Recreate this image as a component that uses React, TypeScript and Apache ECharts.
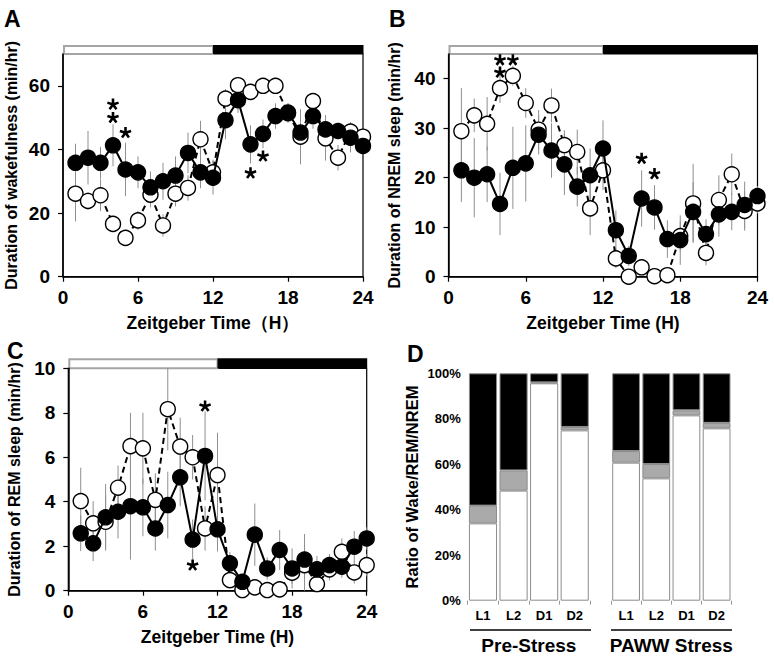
import React, { useEffect, useRef } from "react";
import * as echarts from "echarts";

const FONT = "Liberation Sans, Arial, Helvetica, sans-serif";

const HOURS = [1, 2, 3, 4, 5, 6, 7, 8, 9, 10, 11, 12, 13, 14, 15, 16, 17, 18, 19, 20, 21, 22, 23, 24];

// Panel A: wakefulness (min/hr)
const wakeFilled = [35.8, 37.4, 35.8, 41.3, 33.7, 32.8, 28.1, 30.0, 31.8, 38.9, 32.8, 31.1, 49.2, 55.5, 41.6, 44.9, 50.5, 51.6, 45.3, 50.5, 46.3, 45.8, 43.7, 41.1];
const wakeFilledErr = [6, 8.4, 5, 6.6, 8.4, 5, 5, 5.8, 6, 6.4, 5, 5.3, 6, 4, 6, 4.5, 4, 3, 6, 4, 4.5, 2.6, 4.6, 2];
const wakeOpen = [26.1, 23.8, 25.6, 16.6, 12.2, 17.7, 25.8, 16.1, 26.1, 27.9, 43.2, 32.8, 56.0, 60.2, 58.1, 60.0, 60.0, 51.4, 44.0, 55.2, 43.5, 37.4, 45.6, 44.0];
const wakeOpenErr = [8.7, 2.8, 5, 2, 2, 3, 4, 3.5, 4, 4, 5.8, 4, 3, 2, 2, 2, 2, 3, 8.7, 2.2, 7, 4, 3, 2];
const wakeStars = [[4, 54.2], [4, 50.0], [5, 45.3], [15, 32.6], [16, 37.9]];

// Panel B: NREM sleep (min/hr)
const nremFilled = [21.5, 20.0, 20.7, 14.7, 22.0, 22.9, 28.7, 25.5, 22.7, 18.2, 20.5, 25.9, 9.4, 4.2, 15.8, 14.0, 7.6, 7.4, 13.1, 8.6, 12.6, 13.1, 14.5, 16.3];
const nremFilledErr = [6.4, 8, 5.6, 6.3, 8.3, 7.7, 4, 5.5, 6.2, 4, 5.4, 5.7, 4, 2, 5.7, 4.5, 3.8, 5, 6, 3, 4.5, 3.7, 4.7, 2];
const nremOpen = [29.4, 32.6, 30.9, 38.1, 40.6, 35.1, 29.7, 34.6, 26.6, 25.2, 13.8, 21.5, 3.7, 0, 1.9, 0.1, 0.3, 8.2, 14.8, 4.8, 15.5, 20.7, 13.3, 14.8];
const nremOpenErr = [8.7, 3.4, 5.4, 3, 2, 3, 4, 3.4, 3, 4.5, 5.4, 4, 2, 0.5, 1.5, 0.5, 0.5, 3, 8, 2.5, 5, 4.2, 4, 2];
const nremStars = [[4, 43.8], [5, 43.8], [4, 41.3], [15, 23.9], [16, 20.8]];

// Panel C: REM sleep (min/hr)
const remFilled = [2.58, 2.13, 3.3, 3.55, 3.8, 3.75, 2.8, 3.85, 5.1, 2.3, 6.06, 2.76, 1.23, 0.4, 2.52, 1.0, 1.83, 1.0, 1.4, 0.96, 1.15, 1.08, 1.98, 2.35];
const remFilledErr = [0.8, 0.8, 1.5, 1.2, 2.4, 1.3, 1.0, 1.5, 1.3, 0.9, 2.0, 1.0, 0.5, 0.3, 1.4, 0.5, 0.9, 0.9, 0.8, 0.6, 0.5, 0.5, 0.7, 0.5];
const remOpen = [4.03, 3.03, 3.1, 4.63, 6.5, 6.4, 4.08, 8.16, 6.48, 6.0, 2.8, 5.2, 0.48, 0.03, 0.15, 0.03, 0.06, 0.81, 1.15, 0.3, 0.96, 1.75, 0.82, 1.15];
const remOpenErr = [1.5, 1.0, 1.2, 1.0, 1.5, 1.6, 1.2, 1.85, 1.3, 1.0, 1.0, 1.9, 0.4, 0.1, 0.3, 0.1, 0.1, 0.5, 1.4, 0.5, 0.5, 0.6, 0.5, 0.5];
const remStars = [[11, 8.3], [10, 1.15]];

// Panel D: ratio (%)
const PHASES = ["L1", "L2", "D1", "D2"];
const preNrem = [34.0, 48.4, 95.6, 74.9];
const preRem = [7.8, 8.9, 0.4, 1.5];
const preWake = [58.2, 42.7, 4.0, 23.6];
const pawwNrem = [60.7, 53.8, 81.5, 75.8];
const pawwRem = [5.1, 6.3, 2.2, 2.4];
const pawwWake = [34.2, 39.9, 16.3, 21.8];

const ticksA = [0, 20, 40, 60];
const ticksB = [0, 10, 20, 30, 40];

// five-armed asterisk outline used as the significance marker symbol
function asteriskPath(): string {
  const c = 10;
  const L = 10;
  const w = 4.4;
  let d = "";
  for (let k = 0; k < 5; k++) {
    const a = ((-90 + 72 * k) * Math.PI) / 180;
    const dx = Math.cos(a);
    const dy = Math.sin(a);
    const nx = -dy;
    const ny = dx;
    const p = [
      [c + (nx * w) / 2, c + (ny * w) / 2],
      [c + (nx * w) / 2 + dx * L, c + (ny * w) / 2 + dy * L],
      [c - (nx * w) / 2 + dx * L, c - (ny * w) / 2 + dy * L],
      [c - (nx * w) / 2, c - (ny * w) / 2],
    ];
    d += `M${p[0][0].toFixed(2)} ${p[0][1].toFixed(2)}L${p[1][0].toFixed(2)} ${p[1][1].toFixed(2)}L${p[2][0].toFixed(2)} ${p[2][1].toFixed(2)}L${p[3][0].toFixed(2)} ${p[3][1].toFixed(2)}Z`;
  }
  return d;
}

export default function App() {
  const ref = useRef<HTMLDivElement>(null);
  useEffect(() => {
    document.body.style.margin = "0";
    const chart = echarts.init(ref.current!, undefined, { renderer: "svg" });
    const STAR = "path://" + asteriskPath();

    const pairs = (vals: number[]) => HOURS.map((h, i) => [h, vals[i]]);
    const errs = (vals: number[], e: number[]) => HOURS.map((h, i) => [h, vals[i], e[i]]);

    const errSeries = (vals: number[], e: number[], idx: number) => ({
      type: "custom",
      xAxisIndex: idx,
      yAxisIndex: idx,
      silent: true,
      z: 1,
      encode: { x: 0, y: 1 },
      data: errs(vals, e),
      renderItem: (params: any, api: any) => {
        const x = api.value(0);
        const v = api.value(1);
        const er = api.value(2);
        const p1 = api.coord([x, Math.max(0, v - er)]);
        const p2 = api.coord([x, v + er]);
        return {
          type: "line",
          shape: { x1: p1[0], y1: p1[1], x2: p2[0], y2: p2[1] },
          style: { stroke: "#8f8f8f", lineWidth: 1 },
        };
      },
    });

    const lineSeries = (vals: number[], idx: number, open: boolean) => ({
      type: "line",
      xAxisIndex: idx,
      yAxisIndex: idx,
      data: pairs(vals),
      symbol: "circle",
      symbolSize: 15,
      clip: false,
      z: open ? 3 : 4,
      lineStyle: { color: "#000", width: 2, type: open ? [6, 4] : "solid" },
      itemStyle: { color: open ? "#fff" : "#000", borderColor: "#000", borderWidth: 1.4 },
    });

    const starSeries = (pts: number[][], idx: number) => ({
      type: "scatter",
      xAxisIndex: idx,
      yAxisIndex: idx,
      data: pts,
      symbol: STAR,
      symbolSize: 12,
      symbolKeepAspect: true,
      silent: true,
      z: 5,
      itemStyle: { color: "#000", opacity: 1 },
    });

    const valueX = (idx: number, name: string) => ({
      type: "value",
      gridIndex: idx,
      min: 0,
      max: 24,
      interval: 6,
      axisLine: { lineStyle: { color: "#000", width: 1.5 } },
      axisTick: { length: 5, lineStyle: { color: "#000", width: 1.2 } },
      splitLine: { show: false },
      axisLabel: { fontSize: 19, fontWeight: "bold", color: "#000", fontFamily: FONT, margin: 11 },
      name,
      nameLocation: "middle",
      nameGap: 37,
      nameTextStyle: { fontSize: 17.5, fontWeight: "bold", color: "#000", fontFamily: FONT },
    });

    const valueY = (idx: number, max: number, name: string, extra: any, gap: number) => ({
      type: "value",
      gridIndex: idx,
      min: 0,
      max,
      axisLine: { show: true, lineStyle: { color: "#000", width: 1.5 } },
      axisTick: { show: true, length: 5, lineStyle: { color: "#000", width: 1.2 }, ...(extra.tick || {}) },
      splitLine: { show: false },
      axisLabel: { fontSize: 19, fontWeight: "bold", color: "#000", fontFamily: FONT, margin: 13, ...(extra.label || {}) },
      ...(extra.interval ? { interval: extra.interval } : {}),
      name,
      nameLocation: "middle",
      nameRotate: 90,
      nameGap: gap,
      nameTextStyle: { fontSize: 16, fontWeight: "bold", color: "#000", fontFamily: FONT },
    });

    const catX = (idx: number, name: string) => ({
      type: "category",
      gridIndex: idx,
      data: PHASES,
      axisLine: { show: false },
      axisTick: { show: true, length: 4, lineStyle: { color: "#999", width: 1 } },
      axisLabel: { fontSize: 13, fontWeight: "bold", color: "#000", fontFamily: FONT, margin: 8 },
      name,
      nameLocation: "middle",
      nameGap: 35,
      nameTextStyle: { fontSize: 19, fontWeight: "bold", color: "#000", fontFamily: FONT },
    });

    const barSeries = (vals: number[], idx: number, stack: string, color: string) => ({
      type: "bar",
      xAxisIndex: idx,
      yAxisIndex: idx,
      stack,
      data: vals,
      barWidth: "92%",
      itemStyle: { color, borderColor: "#8c8c8c", borderWidth: 1 },
    });

    const gridBase = { show: true, borderColor: "#000", borderWidth: 1.2, backgroundColor: "transparent" };

    chart.setOption({
      animation: false,
      grid: [
        { ...gridBase, left: 63, top: 54, width: 300, height: 222.7 },
        { ...gridBase, left: 448.5, top: 54, width: 309, height: 222.7 },
        { ...gridBase, left: 68.3, top: 368.3, width: 298.4, height: 222.4 },
        { show: false, left: 467.7, top: 373.3, width: 122.3, height: 227.4 },
        { show: false, left: 611, top: 373.3, width: 120.7, height: 227.4 },
      ],
      xAxis: [
        valueX(0, "Zeitgeber Time（H）"),
        valueX(1, "Zeitgeber Time (H)"),
        valueX(2, "Zeitgeber Time (H)"),
        catX(3, "Pre-Stress"),
        catX(4, "PAWW Stress"),
      ],
      yAxis: [
        valueY(0, 70, "Duration of wakefulness (min/hr)", { label: { customValues: ticksA }, tick: { customValues: ticksA } }, 44),
        valueY(1, 45, "Duration of NREM sleep (min/hr)", { label: { customValues: ticksB }, tick: { customValues: ticksB } }, 46),
        valueY(2, 10, "Duration of REM sleep (min/hr)", { interval: 2 }, 46),
        {
          type: "value",
          gridIndex: 3,
          min: 0,
          max: 100,
          interval: 20,
          axisLine: { show: false },
          axisTick: { show: false },
          splitLine: { show: false },
          axisLabel: { formatter: "{value}%", fontSize: 13, fontWeight: "bold", color: "#000", fontFamily: FONT, margin: 7 },
          name: "Ratio of Wake/REM/NREM",
          nameLocation: "middle",
          nameRotate: 90,
          nameGap: 47,
          nameTextStyle: { fontSize: 16.5, fontWeight: "bold", color: "#000", fontFamily: FONT },
        },
        { type: "value", gridIndex: 4, min: 0, max: 100, show: false },
      ],
      series: [
        errSeries(wakeOpen, wakeOpenErr, 0),
        errSeries(wakeFilled, wakeFilledErr, 0),
        lineSeries(wakeOpen, 0, true),
        lineSeries(wakeFilled, 0, false),
        starSeries(wakeStars, 0),

        errSeries(nremOpen, nremOpenErr, 1),
        errSeries(nremFilled, nremFilledErr, 1),
        lineSeries(nremOpen, 1, true),
        lineSeries(nremFilled, 1, false),
        starSeries(nremStars, 1),

        errSeries(remOpen, remOpenErr, 2),
        errSeries(remFilled, remFilledErr, 2),
        lineSeries(remOpen, 2, true),
        lineSeries(remFilled, 2, false),
        starSeries(remStars, 2),

        barSeries(preNrem, 3, "pre", "#ffffff"),
        barSeries(preRem, 3, "pre", "#aaaaaa"),
        barSeries(preWake, 3, "pre", "#000000"),
        barSeries(pawwNrem, 4, "paww", "#ffffff"),
        barSeries(pawwRem, 4, "paww", "#aaaaaa"),
        barSeries(pawwWake, 4, "paww", "#000000"),
      ],
    });

    // light/dark bars above panels A-C, placed through the axes
    const graphics: any[] = [];
    const maxes = [70, 45, 10];
    for (let i = 0; i < 3; i++) {
      const l = chart.convertToPixel({ xAxisIndex: i, yAxisIndex: i } as any, [0, maxes[i]]) as number[];
      const m = chart.convertToPixel({ xAxisIndex: i, yAxisIndex: i } as any, [12, maxes[i]]) as number[];
      const r = chart.convertToPixel({ xAxisIndex: i, yAxisIndex: i } as any, [24, maxes[i]]) as number[];
      const h = i === 2 ? 10 : 9;
      graphics.push({
        type: "rect",
        shape: { x: l[0] + 1, y: l[1] - h + 1, width: m[0] - l[0] - 1, height: h - 1 },
        style: { fill: "#fff", stroke: "#a5a5a5", lineWidth: 2 },
      });
      graphics.push({
        type: "rect",
        shape: { x: m[0], y: m[1] - h, width: r[0] - m[0] + 0.5, height: h },
        style: { fill: "#000" },
      });
    }
    // group underlines in D
    graphics.push({ type: "line", shape: { x1: 470, y1: 630, x2: 591, y2: 630 }, style: { stroke: "#000", lineWidth: 1.6 } });
    graphics.push({ type: "line", shape: { x1: 611, y1: 630, x2: 732, y2: 630 }, style: { stroke: "#000", lineWidth: 1.6 } });
    // panel letters
    const letters = [
      ["A", 4, 7],
      ["B", 389, 7],
      ["C", 7, 339],
      ["D", 407, 342],
    ];
    letters.forEach(([t, x, y]) => {
      graphics.push({
        type: "text",
        x,
        y,
        style: { text: t, font: `bold 23px ${FONT}`, fill: "#000", textVerticalAlign: "top" },
      });
    });
    chart.setOption({ graphic: graphics });

    return () => chart.dispose();
  }, []);

  return <div ref={ref} style={{ width: 774, height: 657 }} />;
}
